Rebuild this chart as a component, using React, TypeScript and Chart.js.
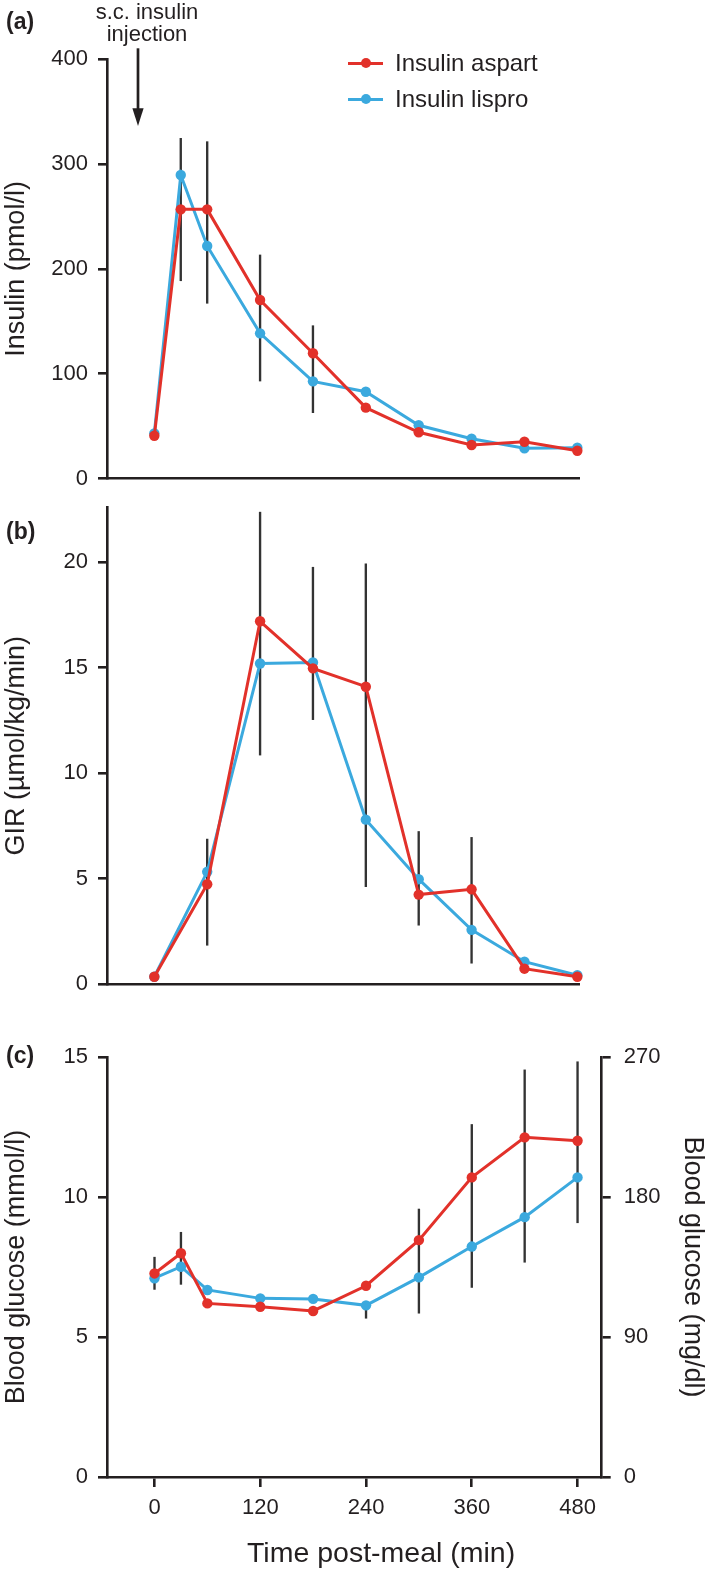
import React, { useEffect, useRef } from "react";
import { Chart, registerables } from "chart.js";

Chart.register(...registerables);

// ---------------- DATA ----------------
const times = [0, 30, 60, 120, 180, 240, 300, 360, 420, 480];

// (a) Insulin (pmol/l)
const insulinAspart = [40.8, 256.8, 256.8, 170.3, 119.5, 67.6, 44.1, 32, 35.1, 26.5];
const insulinLispro = [43.1, 289.6, 221.9, 138.5, 92.7, 82.8, 50.8, 38, 28.8, 29.4];
const insulinErrTimes = [30, 60, 120, 180];
const insulinErrLow = [188.7, 167.2, 93, 62.8];
const insulinErrHigh = [324.6, 321.4, 213.3, 145.8];
const insulinTicks = [0, 100, 200, 300, 400];

// (b) GIR (µmol/kg/min)
const girTimes = [0, 60, 120, 180, 240, 300, 360, 420, 480];
const girAspart = [0.36, 4.74, 17.2, 14.97, 14.1, 4.25, 4.5, 0.74, 0.36];
const girLispro = [0.36, 5.33, 15.2, 15.25, 7.8, 4.98, 2.58, 1.07, 0.43];
const girErrTimes = [60, 120, 180, 240, 300, 360];
const girErrLow = [1.85, 10.86, 12.54, 4.63, 2.8, 1.0];
const girErrHigh = [6.88, 22.37, 19.76, 19.92, 7.24, 6.96];
const girTicks = [0, 5, 10, 15, 20];

// (c) Blood glucose (mmol/l)
const glucoseAspart = [7.27, 7.99, 6.2, 6.08, 5.93, 6.83, 8.46, 10.7, 12.13, 12.01];
const glucoseLispro = [7.1, 7.51, 6.68, 6.38, 6.36, 6.13, 7.13, 8.23, 9.28, 10.7];
const glucoseErrTimes = [0, 30, 240, 300, 360, 420, 480];
const glucoseErrLow = [6.7, 6.88, 5.67, 5.85, 6.77, 7.67, 9.08];
const glucoseErrHigh = [7.85, 8.74, 6.13, 9.57, 12.59, 14.54, 14.83];
const glucoseTicks = [0, 5, 10, 15];
const glucoseMgTicks = [0, 90, 180, 270];
const timeTicks = [0, 120, 240, 360, 480];

const seriesNames = ["Insulin aspart", "Insulin lispro"];

// ---------------- STYLE ----------------
const FONT = "'Liberation Sans', Arial, Helvetica, sans-serif";
const INK = "#231f20";
const RED = "#e2312a";
const BLUE = "#3ba9de";
const ERR = "#333333";
const W = 709;
const H = 1572;
const TICK_SIZE = 22;

function lineDs(label: string, xs: number[], ys: number[], color: string, order: number) {
  return {
    type: "line",
    label,
    data: xs.map((x, i) => ({ x, y: ys[i] })),
    borderColor: color,
    backgroundColor: color,
    borderWidth: 3,
    pointRadius: 5.2,
    pointHoverRadius: 5.2,
    pointBorderWidth: 0,
    pointBackgroundColor: color,
    tension: 0,
    clip: false,
    order,
  };
}

function errDs(xs: number[], lo: number[], hi: number[]) {
  return {
    type: "bar",
    label: "SD",
    data: xs.map((x, i) => ({ x, y: [lo[i], hi[i]] })),
    backgroundColor: ERR,
    borderWidth: 0,
    barThickness: 1.7,
    grouped: false,
    clip: false,
    order: 5,
  };
}

function yAxis(min: number, max: number, ticks: number[], title: string, position: string, width: number, pad: number) {
  return {
    type: "linear",
    position,
    min,
    max,
    afterBuildTicks: (s: any) => {
      s.ticks = ticks.map((v) => ({ value: v }));
    },
    afterFit: (s: any) => {
      s.width = width;
    },
    grid: { display: true, drawOnChartArea: false, drawTicks: true, tickLength: 9, color: INK, lineWidth: 2.6, offset: false },
    border: { display: true, color: INK, width: 2.6 },
    ticks: { color: INK, font: { family: FONT, size: TICK_SIZE }, padding: pad },
    title: { display: true, text: title, color: INK, font: { family: FONT, size: 27 }, padding: { top: 0, bottom: 0 } },
  };
}

function hiddenX(min: number, max: number) {
  return {
    type: "linear",
    position: "bottom",
    min,
    max,
    offset: false,
    afterFit: (s: any) => {
      s.height = 0;
    },
    grid: { display: false, offset: false },
    border: { display: true, color: INK, width: 2.6 },
    ticks: { display: false },
  };
}

const baseOptions = (padding: any, scales: any) => ({
  responsive: false,
  maintainAspectRatio: false,
  animation: false,
  devicePixelRatio: 1,
  layout: { padding },
  plugins: { legend: { display: false }, tooltip: { enabled: false } },
  events: [],
  scales,
});

function PanelCanvas({ build }: { build: () => any }) {
  const ref = useRef<HTMLCanvasElement | null>(null);
  useEffect(() => {
    if (!ref.current) return;
    const chart = new Chart(ref.current, build());
    return () => chart.destroy();
  }, []);
  return (
    <canvas
      ref={ref}
      width={W}
      height={H}
      style={{ position: "absolute", left: 0, top: 0, width: W, height: H }}
    />
  );
}

const buildA = () => ({
  type: "line",
  data: {
    datasets: [
      lineDs(seriesNames[0], times, insulinAspart, RED, 0),
      lineDs(seriesNames[1], times, insulinLispro, BLUE, 1),
      errDs(insulinErrTimes, insulinErrLow, insulinErrHigh),
    ],
  },
  options: baseOptions(
    { left: 0, right: W - 579, top: 59.3, bottom: H - 478.5 },
    {
      x: hiddenX(-53.7, 481.9),
      y: yAxis(0, 400, insulinTicks, "Insulin (pmol/l)", "left", 107, 10),
    }
  ),
});

const buildB = () => ({
  type: "line",
  data: {
    datasets: [
      lineDs(seriesNames[0], girTimes, girAspart, RED, 0),
      lineDs(seriesNames[1], girTimes, girLispro, BLUE, 1),
      errDs(girErrTimes, girErrLow, girErrHigh),
    ],
  },
  options: baseOptions(
    { left: 0, right: W - 579, top: 507.3, bottom: H - 984.3 },
    {
      x: hiddenX(-53.7, 481.9),
      y: yAxis(0, 22.6, girTicks, "GIR (µmol/kg/min)", "left", 107, 10),
    }
  ),
});

const buildC = () => ({
  type: "line",
  data: {
    datasets: [
      lineDs(seriesNames[0], times, glucoseAspart, RED, 0),
      lineDs(seriesNames[1], times, glucoseLispro, BLUE, 1),
      errDs(glucoseErrTimes, glucoseErrLow, glucoseErrHigh),
    ],
  },
  options: baseOptions(
    { left: 0, right: 0, top: 1057, bottom: 0 },
    {
      x: {
        type: "linear",
        position: "bottom",
        min: -53.9,
        max: 507.4,
        offset: false,
        afterBuildTicks: (s: any) => {
          s.ticks = timeTicks.map((v) => ({ value: v }));
        },
        afterFit: (s: any) => {
          s.height = H - 1477;
        },
        grid: { display: true, drawOnChartArea: false, drawTicks: true, tickLength: 10, color: INK, lineWidth: 2.6, offset: false },
        border: { display: true, color: INK, width: 2.6 },
        ticks: { color: INK, font: { family: FONT, size: TICK_SIZE }, padding: 8, maxRotation: 0, autoSkip: false },
        title: { display: false },
      },
      y: yAxis(0, 15, glucoseTicks, "Blood glucose (mmol/l)", "left", 107, 10),
      y2: yAxis(0, 270, glucoseMgTicks, "Blood glucose (mg/dl)", "right", 107.3, 13),
    }
  ),
});

function LegendRow({ y, color, text }: { y: number; color: string; text: string }) {
  return (
    <div style={{ position: "absolute", left: 348, top: y - 14, height: 28, width: 280 }}>
      <div style={{ position: "absolute", left: 0, top: 12.5, width: 35, height: 3, background: color }} />
      <div
        style={{
          position: "absolute",
          left: 12.5,
          top: 8.8,
          width: 10.4,
          height: 10.4,
          borderRadius: "50%",
          background: color,
        }}
      />
      <div
        style={{
          position: "absolute",
          left: 47,
          top: 0,
          lineHeight: "28px",
          fontSize: 24,
          fontFamily: FONT,
          color: INK,
          whiteSpace: "nowrap",
        }}
      >
        {text}
      </div>
    </div>
  );
}

const panelLabel = (text: string, cy: number) => (
  <div
    style={{
      position: "absolute",
      left: 6,
      top: cy - 14,
      lineHeight: "26px",
      fontSize: 23,
      fontWeight: "bold",
      fontFamily: FONT,
      color: INK,
    }}
  >
    {text}
  </div>
);

export default function App() {
  return (
    <div
      style={{
        position: "absolute",
        left: 0,
        top: 0,
        width: W,
        height: H,
        overflow: "hidden",
        background: "#ffffff",
      }}
    >
      <PanelCanvas build={buildA} />
      <PanelCanvas build={buildB} />
      <PanelCanvas build={buildC} />

      {panelLabel("(a)", 22)}
      {panelLabel("(b)", 531.7)}
      {panelLabel("(c)", 1056)}

      <div
        style={{
          position: "absolute",
          left: 47,
          top: 0.7,
          width: 200,
          textAlign: "center",
          fontSize: 22,
          lineHeight: "22px",
          fontFamily: FONT,
          color: INK,
        }}
      >
        s.c. insulin
        <br />
        injection
      </div>
      <svg
        width={30}
        height={90}
        style={{ position: "absolute", left: 123.3, top: 44 }}
        viewBox="0 0 30 90"
      >
        <line x1={15} y1={4.3} x2={15} y2={70} stroke={INK} strokeWidth={2.7} />
        <polygon points="9.4,64.3 20.6,64.3 15,82" fill={INK} />
      </svg>

      <LegendRow y={63} color={RED} text={seriesNames[0]} />
      <LegendRow y={99} color={BLUE} text={seriesNames[1]} />

      <div
        style={{
          position: "absolute",
          left: 247,
          top: 1535,
          lineHeight: "34px",
          fontSize: 28.5,
          fontFamily: FONT,
          color: INK,
          whiteSpace: "nowrap",
        }}
      >
        Time post-meal (min)
      </div>
    </div>
  );
}
